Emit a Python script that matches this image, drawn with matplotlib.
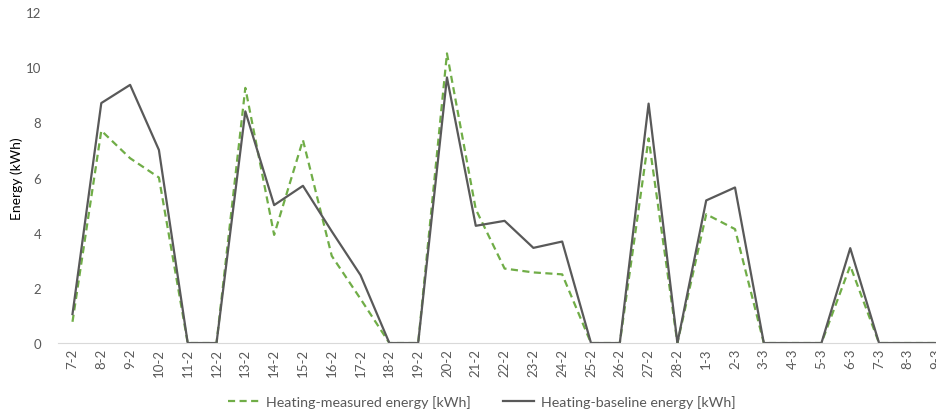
import matplotlib.pyplot as plt
import numpy as np

# daily heating energy, 7 Feb - 9 Mar
days = ["7-2", "8-2", "9-2", "10-2", "11-2", "12-2", "13-2", "14-2", "15-2", "16-2",
        "17-2", "18-2", "19-2", "20-2", "21-2", "22-2", "23-2", "24-2", "25-2", "26-2",
        "27-2", "28-2", "1-3", "2-3", "3-3", "4-3", "5-3", "6-3", "7-3", "8-3", "9-3"]
measured = [0.77, 7.7, 6.7, 6.0, 0, 0, 9.25, 3.92, 7.36, 3.16,
            1.6, 0, 0, 10.5, 4.85, 2.7, 2.56, 2.49, 0, 0,
            7.42, 0, 4.67, 4.13, 0, 0, 0, 2.8, 0, 0, 0]
baseline = [1.05, 8.7, 9.36, 7.0, 0, 0, 8.4, 5.0, 5.7, 4.05,
            2.46, 0, 0, 9.63, 4.25, 4.43, 3.45, 3.68, 0, 0,
            8.68, 0, 5.17, 5.64, 0, 0, 0, 3.44, 0, 0, 0]

plt.rcParams['font.family'] = ['Lato', 'DejaVu Sans']
grey = "#595959"

fig = plt.figure(figsize=(9.37, 4.14), dpi=100)
ax = fig.add_axes([0.062, 0.169, 0.953, 0.7995])

x = np.arange(len(days))
ax.plot(x, measured, color="#70AD47", lw=1.6, ls=(0, (3.2, 2)),
        label="Heating-measured energy [kWh]")
ax.plot(x, baseline, color="#595959", lw=1.6,
        label="Heating-baseline energy [kWh]")

ax.set_xlim(-0.5, len(days) - 0.5)
ax.set_ylim(0, 12)
ax.set_yticks(range(0, 13, 2))
ax.set_xticks(x)
ax.set_xticklabels(days, rotation=90)
ax.tick_params(axis="both", length=0, colors=grey, labelsize=9.5)
ax.tick_params(axis="y", pad=12)

for side in ["top", "right", "left"]:
    ax.spines[side].set_visible(False)
ax.spines["bottom"].set_color("#d9d9d9")

ax.set_ylabel("Energy (kWh)", fontsize=10, color="black", labelpad=2)

leg = ax.legend(loc="lower center", bbox_to_anchor=(0.4745, -0.235),
                ncol=2, frameon=False, fontsize=10.3, handlelength=2.2,
                columnspacing=2.2, handletextpad=0.5)
for t in leg.get_texts():
    t.set_color(grey)

fig.savefig("out.png", dpi=100)
